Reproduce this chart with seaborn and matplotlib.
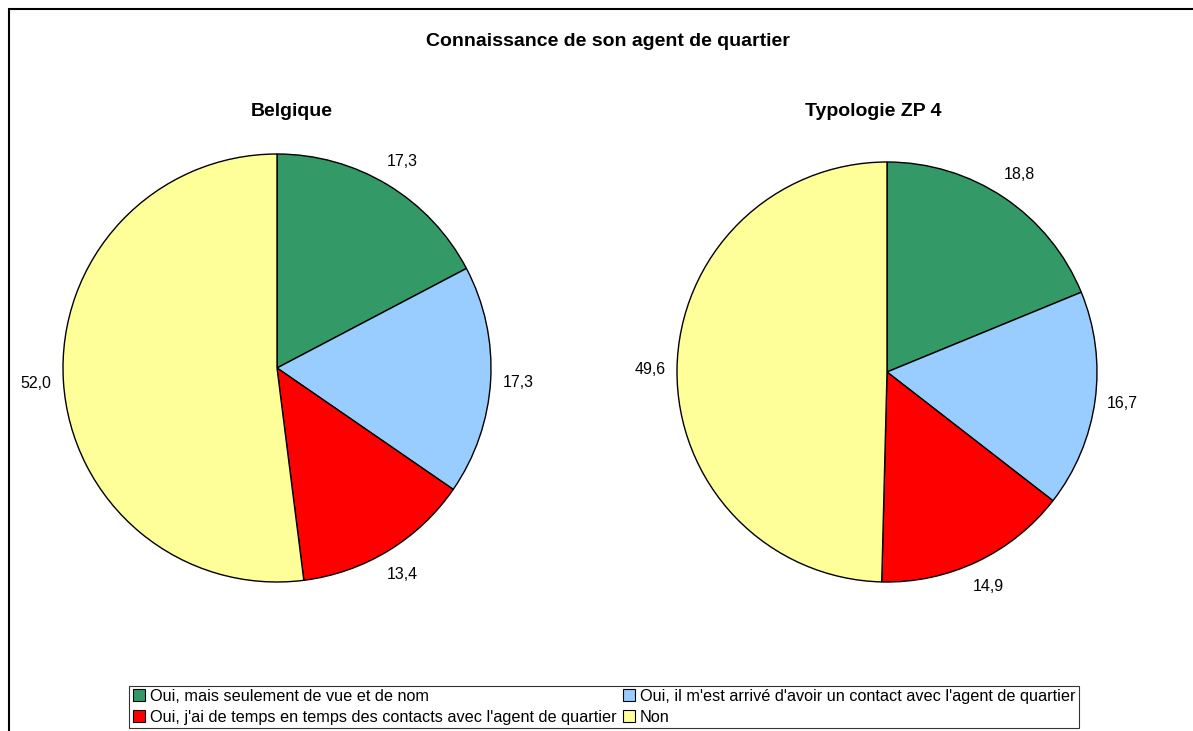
import matplotlib
matplotlib.use("Agg")
import matplotlib.pyplot as plt
import matplotlib.patches as mpatches
import seaborn as sns

# data
categories = [
    "Oui, mais seulement de vue et de nom",
    "Oui, il m'est arrivé d'avoir un contact avec l'agent de quartier",
    "Oui, j'ai de temps en temps des contacts avec l'agent de quartier",
    "Non",
]
belgique = [17.3, 17.3, 13.4, 52.0]
typologie = [18.8, 16.7, 14.9, 49.6]
colors = ["#339966", "#99CCFF", "#FF0000", "#FFFF99"]

sns.set_theme(style="white")
plt.rcParams["font.family"] = ["Liberation Sans", "DejaVu Sans"]
plt.rcParams["text.color"] = "black"

W, H = 1193, 731
fig = plt.figure(figsize=(W / 100, H / 100), dpi=100)


def pie_axes(cx, cy, r):
    # cx, cy in pixels from top-left, r radius in pixels
    side = 2.5 * r
    x0 = (cx - side / 2) / W
    y0 = (H - cy - side / 2) / H
    return fig.add_axes([x0, y0, side / W, side / H])


def draw_pie(ax, values):
    labels = [f"{v:.1f}".replace(".", ",") for v in values]
    wedges, texts = ax.pie(values, colors=colors, startangle=90, counterclock=False,
                           labels=labels, labeldistance=1.13,
                           wedgeprops=dict(edgecolor="black", linewidth=1),
                           textprops=dict(fontsize=11.5, color="black"))
    for t in texts:
        t.set_ha("center")
        t.set_va("center")
    ax.set_xlim(-1.25, 1.25)
    ax.set_ylim(-1.25, 1.25)
    ax.set_aspect("equal")
    ax.axis("off")


ax1 = pie_axes(277, 368, 214)
draw_pie(ax1, belgique)
ax2 = pie_axes(887, 372, 210)
draw_pie(ax2, typologie)

fig.text(608 / W, 1 - 42 / H, "Connaissance de son agent de quartier",
         ha="center", va="center", fontsize=14, fontweight="bold")
fig.text(292 / W, 1 - 111 / H, "Belgique",
         ha="center", va="center", fontsize=14, fontweight="bold")
fig.text(873 / W, 1 - 111 / H, "Typologie ZP 4",
         ha="center", va="center", fontsize=14, fontweight="bold")

# outer frame (only top and left visible)
fig.patches.append(mpatches.Rectangle((9 / W, -0.1), 1.2, 1 - 9 / H + 0.1,
                                      transform=fig.transFigure, fill=False,
                                      edgecolor="black", linewidth=1.5))

handles = [mpatches.Patch(facecolor=c, edgecolor="black", linewidth=0.8, label=l)
           for c, l in zip(colors, categories)]
order = [0, 2, 1, 3]
leg = fig.legend([handles[i] for i in order], [categories[i] for i in order],
                 ncol=2, loc="lower center", bbox_to_anchor=(604 / W, 3 / H),
                 fontsize=11.7, frameon=True, fancybox=False,
                 handlelength=0.75, handleheight=0.75, handletextpad=0.3,
                 columnspacing=0.4, borderpad=0.2, labelspacing=0.35,
                 borderaxespad=0)
leg.get_frame().set_edgecolor("black")
leg.get_frame().set_linewidth(0.8)

fig.savefig("out.png", dpi=100)
